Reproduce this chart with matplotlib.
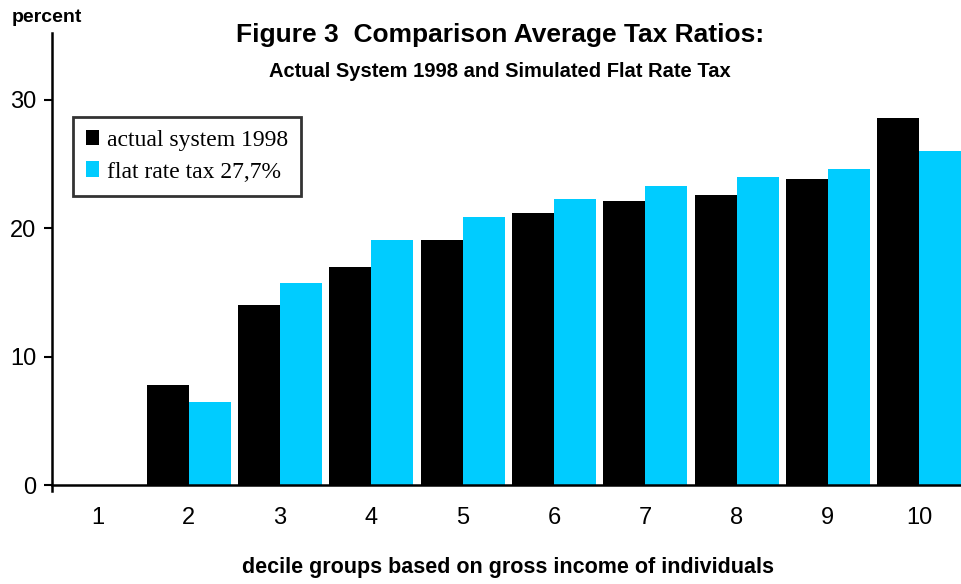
import matplotlib
matplotlib.use("Agg")
import matplotlib.pyplot as plt
import numpy as np
from matplotlib.patches import Patch

deciles = ["1", "2", "3", "4", "5", "6", "7", "8", "9", "10"]
actual_1998 = [0.0, 7.8, 14.0, 17.0, 19.1, 21.2, 22.1, 22.6, 23.8, 28.6]
flat_rate = [0.0, 6.5, 15.7, 19.1, 20.9, 22.3, 23.3, 24.0, 24.6, 26.0]
yticks = [0, 10, 20, 30]

plt.rcParams['font.family'] = ['Liberation Sans', 'DejaVu Sans']

fig = plt.figure(figsize=(9.61, 5.84), dpi=100)
ax = fig.add_axes([0.054, 0.1695, 0.95, 0.774])

x = np.arange(len(deciles))
w = 0.46
ax.bar(x - w/2, actual_1998, w, color='black', label='actual system 1998')
ax.bar(x + w/2, flat_rate, w, color='#00CCFF', label='flat rate tax 27,7%')

ax.set_xlim(-0.5, 9.5)
ax.set_ylim(0, 35.2)
ax.set_yticks(yticks)
ax.set_yticklabels([str(v) for v in yticks], fontsize=17)
ax.set_xticks(x)
ax.set_xticklabels(deciles, fontsize=17)
ax.tick_params(axis='x', length=0, pad=16)
ax.tick_params(axis='y', length=6, width=1.5, direction='out', pad=5)
for s in ['top', 'right']:
    ax.spines[s].set_visible(False)
ax.spines['left'].set_linewidth(1.8)
ax.spines['bottom'].set_linewidth(1.8)
ax.spines['left'].set_bounds(-0.5, 35.2)

ax.set_xlabel('decile groups based on gross income of individuals', fontsize=15.5,
              fontweight='bold', labelpad=20)

fig.text(0.52, 0.94, 'Figure 3  Comparison Average Tax Ratios:', fontsize=19,
         fontweight='bold', ha='center', va='center')
fig.text(0.52, 0.877, 'Actual System 1998 and Simulated Flat Rate Tax', fontsize=14.5,
         fontweight='bold', ha='center', va='center')
fig.text(0.012, 0.97, 'percent', fontsize=14, fontweight='bold', ha='left', va='center')

handles = [Patch(facecolor='black'), Patch(facecolor='#00CCFF')]
leg = ax.legend(handles, ['actual system 1998', 'flat rate tax 27,7%'],
                loc='upper left', bbox_to_anchor=(0.023, 0.815),
                prop={'family': 'Liberation Serif', 'size': 17},
                frameon=True, fancybox=False, edgecolor='black',
                handlelength=0.55, handleheight=0.65, handletextpad=0.35,
                borderpad=0.55, labelspacing=0.45, borderaxespad=0)
leg.get_frame().set_linewidth(2)

fig.savefig('out.png', dpi=100)
